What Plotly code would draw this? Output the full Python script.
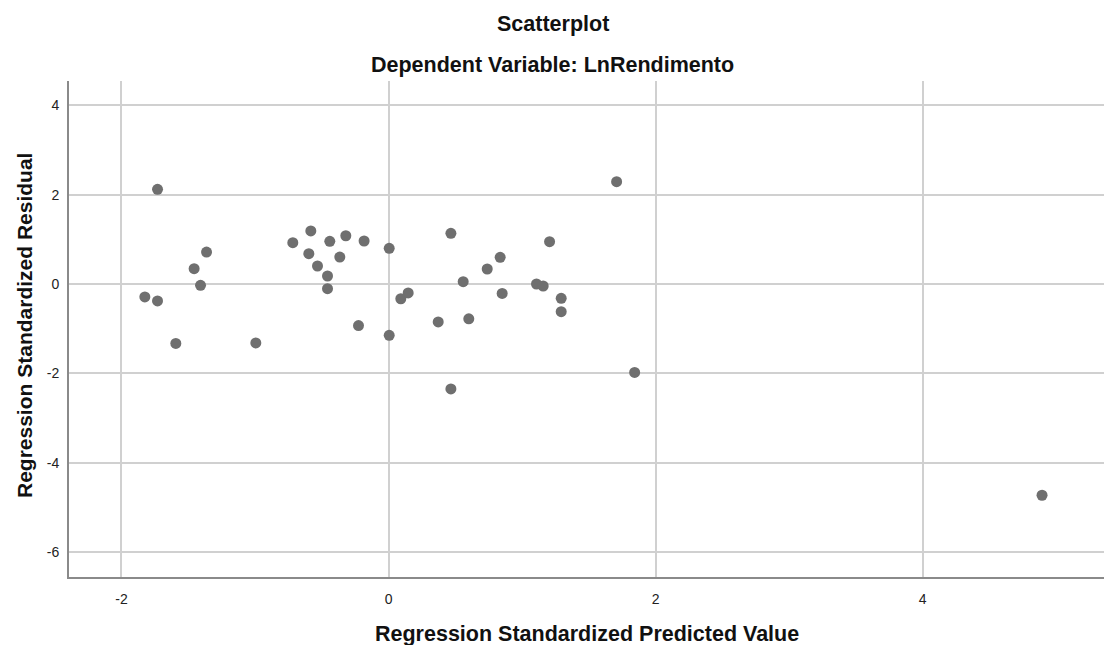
import plotly.graph_objects as go

# Regression standardized predicted values (x) and standardized residuals (y)
predicted = [
    -1.730, -0.582, -0.717, -0.440, -0.320, -0.183, 0.005, -1.363, -0.597, -0.365,
    -1.456, -0.532, -0.457, -1.408, -0.457, -1.825, -1.730, 0.092, 0.147, -0.225,
    0.005, -1.593, -0.994, 1.708, 0.467, 1.206, 0.836, 0.739, 0.559, 1.108,
    1.158, 0.851, 1.293, 1.293, 0.372, 0.601, 1.843, 0.467, 4.894,
]
residual = [
    2.12, 1.187, 0.925, 0.955, 1.08, 0.963, 0.80, 0.716, 0.68, 0.604,
    0.343, 0.403, 0.179, -0.03, -0.104, -0.29, -0.38, -0.33, -0.20, -0.93,
    -1.15, -1.33, -1.32, 2.29, 1.135, 0.948, 0.597, 0.336, 0.052, 0.0,
    -0.045, -0.21, -0.32, -0.62, -0.85, -0.78, -1.98, -2.35, -4.73,
]

x_ticks = [-2, 0, 2, 4]
x_tick_labels = ["-2", "0", "2", "4"]
y_ticks = [-6, -4, -2, 0, 2, 4]
y_tick_labels = ["-6", "-4", "-2", "0", "2", "4"]

title_main = "Scatterplot"
title_sub = "Dependent Variable: LnRendimento"
x_title = "Regression Standardized Predicted Value"
y_title = "Regression Standardized Residual"

FONT = "Liberation Sans, Arial, sans-serif"

fig = go.Figure(
    go.Scatter(
        x=predicted,
        y=residual,
        mode="markers",
        marker=dict(size=11, color="#6f6f6f", line=dict(width=0)),
        hoverinfo="x+y",
    )
)

axis_common = dict(
    showgrid=True,
    gridcolor="#d0d0d0",
    gridwidth=1.5,
    zeroline=False,
    showline=True,
    linecolor="#8a8a8a",
    linewidth=2,
    ticks="",
    tickfont=dict(family=FONT, size=14, color="#222222"),
)

fig.update_xaxes(
    range=[-2.393, 5.358],
    tickvals=x_ticks,
    ticktext=x_tick_labels,
    ticklabelstandoff=8,
    **axis_common,
)
fig.update_yaxes(
    range=[-6.56, 4.545],
    tickvals=y_ticks,
    ticktext=y_tick_labels,
    ticklabelstandoff=5,
    **axis_common,
)

annotations = [
    dict(text=f"<b>{title_main}</b>", x=0.4676, y=1.115, font=dict(size=21.5)),
    dict(text=f"<b>{title_sub}</b>", x=0.4676, y=1.032, font=dict(size=21.5)),
    dict(text=f"<b>{x_title}</b>", x=0.5, y=-0.115, font=dict(size=21.5)),
    dict(text=f"<b>{y_title}</b>", x=-0.0435, y=0.508, textangle=-90, font=dict(size=21)),
]
for a in annotations:
    a.update(xref="paper", yref="paper", showarrow=False,
             xanchor="center", yanchor="middle")
    a["font"].update(family=FONT, color="#111111")

fig.update_layout(
    width=1104,
    height=645,
    margin=dict(l=69, r=0, t=81, b=68),
    paper_bgcolor="white",
    plot_bgcolor="white",
    showlegend=False,
    annotations=annotations,
)

fig.write_html("out.html")
